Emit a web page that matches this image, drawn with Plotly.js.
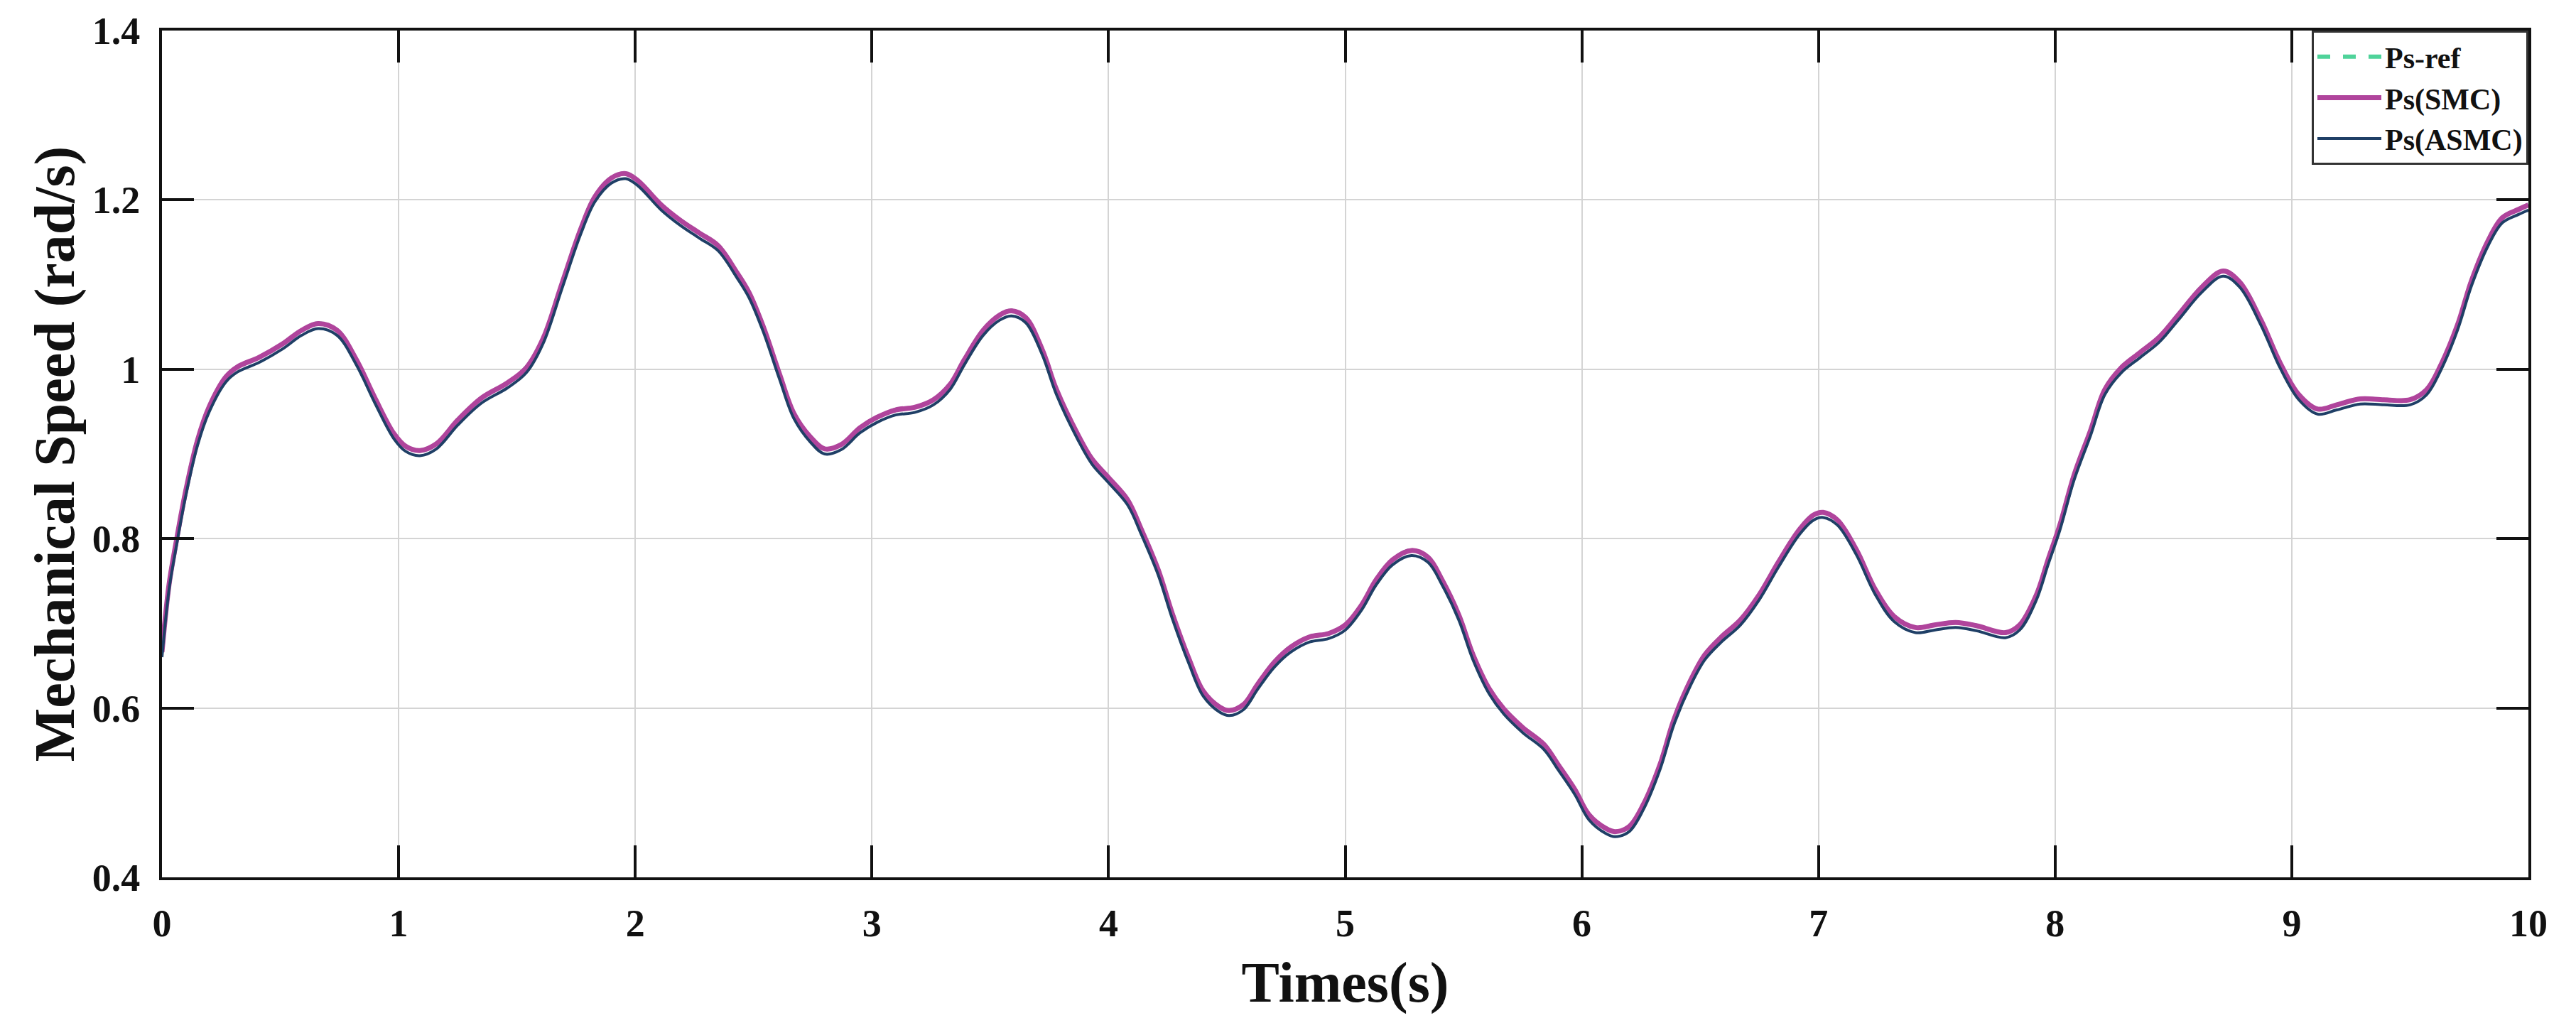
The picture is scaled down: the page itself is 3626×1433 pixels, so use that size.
<!DOCTYPE html>
<html>
<head>
<meta charset="utf-8">
<script src="https://cdn.plot.ly/plotly-3.0.1.min.js"></script>
<style>html,body{margin:0;padding:0;background:#fff;}#chart{width:3626px;height:1433px;}</style>
</head>
<body>
<div id="chart"></div>
<script>
// time (s)
var time = [0.00,0.03,0.06,0.10,0.15,0.20,0.27,0.32,0.41,0.51,
0.59,0.66,0.74,0.82,0.90,0.98,1.03,1.09,1.16,1.25,
1.35,1.46,1.54,1.61,1.69,1.77,1.83,1.90,1.96,2.01,
2.11,2.19,2.27,2.35,2.43,2.48,2.54,2.61,2.67,2.74,
2.80,2.87,2.95,3.02,3.10,3.18,3.26,3.33,3.39,3.47,
3.54,3.59,3.65,3.72,3.78,3.87,3.93,4.00,4.08,4.14,
4.21,4.27,4.34,4.40,4.47,4.51,4.57,4.63,4.70,4.77,
4.85,4.93,5.00,5.07,5.13,5.20,5.28,5.35,5.41,5.48,
5.54,5.61,5.67,5.75,5.84,5.90,5.97,6.03,6.10,6.14,
6.20,6.26,6.33,6.39,6.46,6.52,6.59,6.67,6.75,6.83,
6.92,6.98,7.02,7.08,7.16,7.24,7.32,7.41,7.49,7.58,
7.67,7.79,7.85,7.92,7.97,8.02,8.08,8.15,8.21,8.28,
8.36,8.44,8.52,8.62,8.71,8.78,8.87,8.95,9.03,9.11,
9.19,9.29,9.39,9.50,9.57,9.63,9.70,9.76,9.83,9.89,
9.96,10.00];

// Ps-ref (rad/s)
var psRef = [0.666,0.746,0.796,0.856,0.916,0.956,0.991,1.003,1.014,1.030,
1.046,1.054,1.046,1.012,0.966,0.924,0.909,0.904,0.912,0.940,
0.966,0.984,1.002,1.036,1.101,1.166,1.204,1.226,1.231,1.223,
1.194,1.176,1.161,1.146,1.114,1.091,1.051,0.994,0.948,0.920,
0.906,0.911,0.931,0.943,0.952,0.955,0.964,0.982,1.011,1.046,
1.064,1.069,1.061,1.023,0.976,0.923,0.894,0.872,0.846,0.810,
0.763,0.711,0.658,0.620,0.601,0.597,0.604,0.628,0.654,0.672,
0.684,0.688,0.698,0.722,0.751,0.775,0.786,0.778,0.751,0.710,
0.663,0.622,0.599,0.577,0.557,0.533,0.504,0.474,0.458,0.454,
0.460,0.486,0.533,0.587,0.633,0.663,0.684,0.704,0.734,0.772,
0.811,0.828,0.831,0.822,0.787,0.740,0.708,0.695,0.698,0.701,
0.697,0.689,0.698,0.733,0.775,0.816,0.875,0.928,0.976,1.002,
1.020,1.038,1.064,1.097,1.116,1.103,1.058,1.008,0.970,0.953,
0.958,0.965,0.964,0.964,0.976,1.005,1.052,1.105,1.152,1.179,
1.189,1.194];

// Ps(SMC) (rad/s)
var psSMC = [0.666,0.746,0.796,0.856,0.916,0.956,0.991,1.003,1.014,1.030,
1.046,1.054,1.046,1.012,0.966,0.924,0.909,0.904,0.912,0.940,
0.966,0.984,1.002,1.036,1.101,1.166,1.204,1.226,1.231,1.223,
1.194,1.176,1.161,1.146,1.114,1.091,1.051,0.994,0.948,0.920,
0.906,0.911,0.931,0.943,0.952,0.955,0.964,0.982,1.011,1.046,
1.064,1.069,1.061,1.023,0.976,0.923,0.894,0.872,0.846,0.810,
0.763,0.711,0.658,0.620,0.601,0.597,0.604,0.628,0.654,0.672,
0.684,0.688,0.698,0.722,0.751,0.775,0.786,0.778,0.751,0.710,
0.663,0.622,0.599,0.577,0.557,0.533,0.504,0.474,0.458,0.454,
0.460,0.486,0.533,0.587,0.633,0.663,0.684,0.704,0.734,0.772,
0.811,0.828,0.831,0.822,0.787,0.740,0.708,0.695,0.698,0.701,
0.697,0.689,0.698,0.733,0.775,0.816,0.875,0.928,0.976,1.002,
1.020,1.038,1.064,1.097,1.116,1.103,1.058,1.008,0.970,0.953,
0.958,0.965,0.964,0.964,0.976,1.005,1.052,1.105,1.152,1.179,
1.189,1.194];

// Ps(ASMC) (rad/s)
var psASMC = [0.66,0.74,0.79,0.85,0.91,0.95,0.985,0.997,1.008,1.024,
1.040,1.048,1.040,1.006,0.960,0.918,0.903,0.898,0.906,0.934,
0.960,0.978,0.996,1.030,1.095,1.160,1.198,1.220,1.225,1.217,
1.188,1.170,1.155,1.140,1.108,1.085,1.045,0.988,0.942,0.914,
0.900,0.905,0.925,0.937,0.946,0.949,0.958,0.976,1.005,1.040,
1.058,1.063,1.055,1.017,0.970,0.917,0.888,0.866,0.840,0.804,
0.757,0.705,0.652,0.614,0.595,0.591,0.598,0.622,0.648,0.666,
0.678,0.682,0.692,0.716,0.745,0.769,0.780,0.772,0.745,0.704,
0.657,0.616,0.593,0.571,0.551,0.527,0.498,0.468,0.452,0.448,
0.454,0.480,0.527,0.581,0.627,0.657,0.678,0.698,0.728,0.766,
0.805,0.822,0.825,0.816,0.781,0.734,0.702,0.689,0.692,0.695,
0.691,0.683,0.692,0.727,0.769,0.810,0.869,0.922,0.970,0.996,
1.014,1.032,1.058,1.091,1.110,1.097,1.052,1.002,0.964,0.947,
0.952,0.959,0.958,0.958,0.970,0.999,1.046,1.099,1.146,1.173,
1.183,1.188];

var xTickVals = [0,1,2,3,4,5,6,7,8,9,10];
var xTickText = ['0','1','2','3','4','5','6','7','8','9','10'];
var yTickVals = [0.4,0.6,0.8,1.0,1.2,1.4];
var yTickText = ['0.4','0.6','0.8','1','1.2','1.4'];

var serif = 'Liberation Serif, Times New Roman, serif';

var traces = [
  {x: time, y: psRef, name: 'Ps-ref', type: 'scatter', mode: 'lines',
   line: {color: '#4fd39a', width: 6, dash: 'dash', shape: 'spline'}},
  {x: time, y: psSMC, name: 'Ps(SMC)', type: 'scatter', mode: 'lines',
   line: {color: '#b0449c', width: 7, shape: 'spline'}},
  {x: time, y: psASMC, name: 'Ps(ASMC)', type: 'scatter', mode: 'lines',
   line: {color: '#1f3f66', width: 4, shape: 'spline'}}
];

var axisCommon = {
  showline: true, linecolor: '#111', linewidth: 4, mirror: 'ticks',
  ticks: 'inside', ticklen: 45, tickwidth: 4, tickcolor: '#111',
  showgrid: true, gridcolor: '#d4d4d4', gridwidth: 2, zeroline: false,
  tickfont: {family: serif, size: 54, color: '#111', weight: 700}
};

var layout = {
  width: 3626, height: 1433, autosize: false,
  paper_bgcolor: '#fff', plot_bgcolor: '#fff',
  margin: {l: 228, r: 67, t: 43, b: 198, pad: 0},
  showlegend: true,
  legend: {x: 1, y: 1, xanchor: 'right', yanchor: 'top',
    bgcolor: '#fff', bordercolor: '#333', borderwidth: 3,
    font: {family: serif, size: 42, color: '#111', weight: 700},
    itemwidth: 90, tracegroupgap: 0},
  xaxis: Object.assign({}, axisCommon, {
    range: [0, 10], tickvals: xTickVals, ticktext: xTickText,
    ticklabelstandoff: 14,
    title: {text: 'Times(s)', font: {family: serif, size: 80, color: '#111', weight: 700}, standoff: 26}
  }),
  yaxis: Object.assign({}, axisCommon, {
    range: [0.4, 1.4], tickvals: yTickVals, ticktext: yTickText,
    ticklabelstandoff: 16,
    title: {text: 'Mechanical Speed (rad/s)', font: {family: serif, size: 80, color: '#111', weight: 700}, standoff: 0}
  })
};

Plotly.newPlot('chart', traces, layout, {displayModeBar: false, staticPlot: true});
</script>
</body>
</html>
